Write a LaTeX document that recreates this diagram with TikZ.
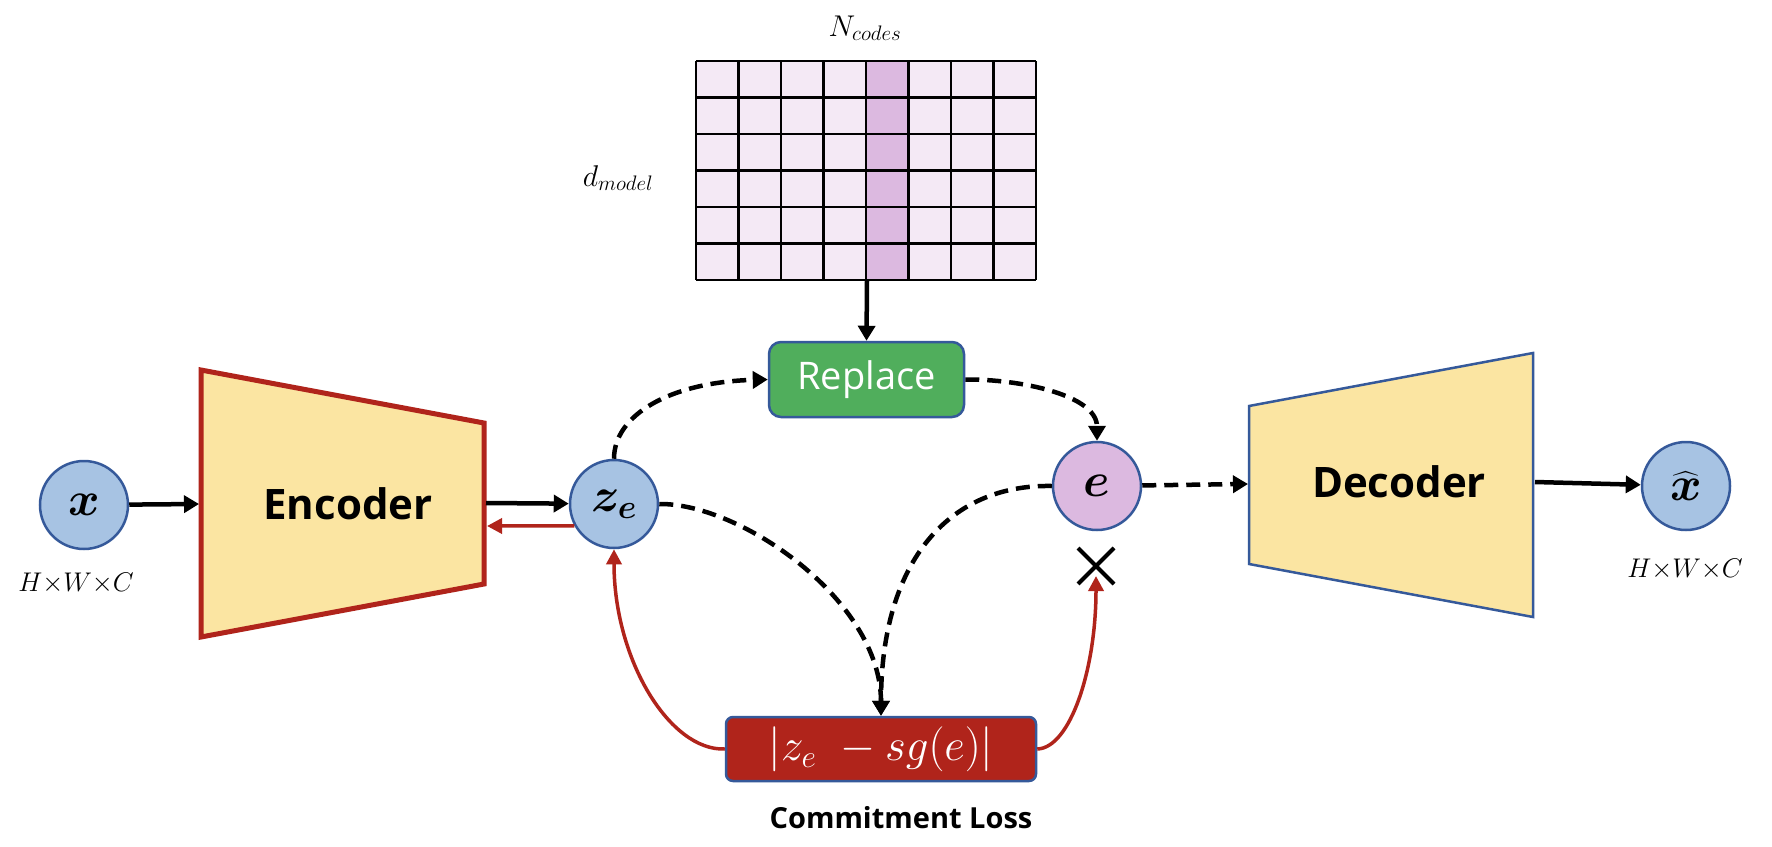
\RequirePackage{fix-cm}
\documentclass[tikz,border=0pt]{standalone}
\usepackage{amsmath}
\usepackage{fontspec}
\setsansfont{Open Sans}
\usetikzlibrary{arrows.meta}
\definecolor{cblue}{HTML}{A7C3E3}
\definecolor{bord}{HTML}{35599A}
\definecolor{lil}{HTML}{DCB9E0}
\definecolor{lilL}{HTML}{F4E9F5}
\definecolor{gr}{HTML}{50AE5C}
\definecolor{rd}{HTML}{B0241B}
\definecolor{yel}{HTML}{FBE5A2}
\begin{document}
\begin{tikzpicture}[x=1pt,y=-1pt,
  circ/.style={circle, draw=bord, line width=2.5pt, minimum size=88pt, inner sep=0pt, fill=cblue, font=\fontsize{48}{52}\selectfont},
  arr/.style={line width=4.5pt, -{Triangle[length=15pt,width=17pt]}},
  darr/.style={arr, dash pattern=on 14pt off 8pt},
  rarr/.style={rd, line width=3.5pt, -{Triangle[length=15pt,width=15pt]}},
  lbl/.style={font=\fontsize{27}{30}\selectfont},
  bigsans/.style={font=\sffamily\bfseries\fontsize{42}{46}\selectfont}
]
\useasboundingbox (0,0) rectangle (1772,846);
\fill[white] (0,0) rectangle (1772,846);

% codebook
\fill[lilL] (696,61) rectangle (1036,280);
\fill[lil] (866,61) rectangle (908.5,280);
\foreach \i in {0,...,8} \draw[line width=2.5pt] ({696+42.5*\i},61) -- ({696+42.5*\i},280);
\foreach \j in {0,...,6} \draw[line width=2.5pt] (696,{61+36.5*\j}) -- (1036,{61+36.5*\j});
\coordinate (cbB) at (867,280);
\node[lbl, font=\fontsize{30}{32}\selectfont] (nc) at (865,28) {$N_{codes}$};
\node[lbl, font=\fontsize{30}{32}\selectfont] (dm) at (618,178) {$d_{model}$};

% encoder
\draw[fill=yel, draw=rd, line width=5pt, line join=miter] (201,370) -- (484,423) -- (484,584) -- (201,637) -- cycle;
\node[bigsans] (enc) at (348,504) {Encoder};
\coordinate (encL) at (199,504);
\coordinate (encR) at (486,503);
\coordinate (encR2) at (487,526);

% decoder
\draw[fill=yel, draw=bord, line width=2.5pt, line join=miter] (1249,406) -- (1533,353) -- (1533,617) -- (1249,564) -- cycle;
\node[bigsans] (dec) at (1399,482) {Decoder};
\coordinate (decL) at (1248,484);
\coordinate (decR) at (1535,482);

% circles
\node[circ] (x) at (84,505) {$\boldsymbol{x}$};
\node[circ] (ze) at (614,504) {$\boldsymbol{z_e}$};
\node[circ, fill=lil] (e) at (1097,486) {$\boldsymbol{e}$};
\node[circ] (xh) at (1686,486) {$\widehat{\boldsymbol{x}}$};

\node[lbl] (hwc1) at (76,583) {$H{\times}W{\times}C$};
\node[lbl] (hwc2) at (1685,569) {$H{\times}W{\times}C$};

% replace and loss
\node[draw=bord, fill=gr, line width=2.5pt, rounded corners=12pt, minimum width=195pt, minimum height=75pt, text=white, font=\sffamily\fontsize{38}{40}\selectfont] (rep) at (866.5,379.5) {Replace};
\node[draw=bord, fill=rd, line width=2.5pt, rounded corners=7pt, minimum width=310pt, minimum height=64pt, inner sep=0pt, text=white, font=\fontsize{45}{46}\selectfont] (loss) at (881,749) {$|z_e\ - sg(e)|$\hspace{18pt}};
\node[font=\sffamily\bfseries\fontsize{29}{32}\selectfont] (cl) at (901,818) {Commitment Loss};

% X mark
\draw[line width=4pt] (1078,548) -- (1114,584) (1078,584) -- (1114,548);
\coordinate (xm) at (1096,576);

% connectors
\draw[arr] (x) -- (encL);
\draw[arr] (encR) -- (ze);
\draw[rarr] (ze.209) -- (encR2);
\draw[arr] (cbB) -- (rep.north);
\draw[darr] (ze.north) .. controls (614,415) and (670,382) .. (rep.west);
\draw[darr] (rep.east) .. controls (1020,379) and (1097,395) .. (e.north);
\draw[darr] (ze.east) .. controls (740,503) and (881,600) .. (loss.north);
\draw[darr] (e.west) .. controls (950,484) and (881,560) .. (loss.north);
\draw[darr] (e) -- (decL);
\draw[arr] (decR) -- (xh);
\draw[rarr] (loss.west) .. controls (670,751) and (614,660) .. (ze.south);
\draw[rarr] (loss.east) .. controls (1070,748) and (1096,670) .. (xm);
\end{tikzpicture}
\end{document}
